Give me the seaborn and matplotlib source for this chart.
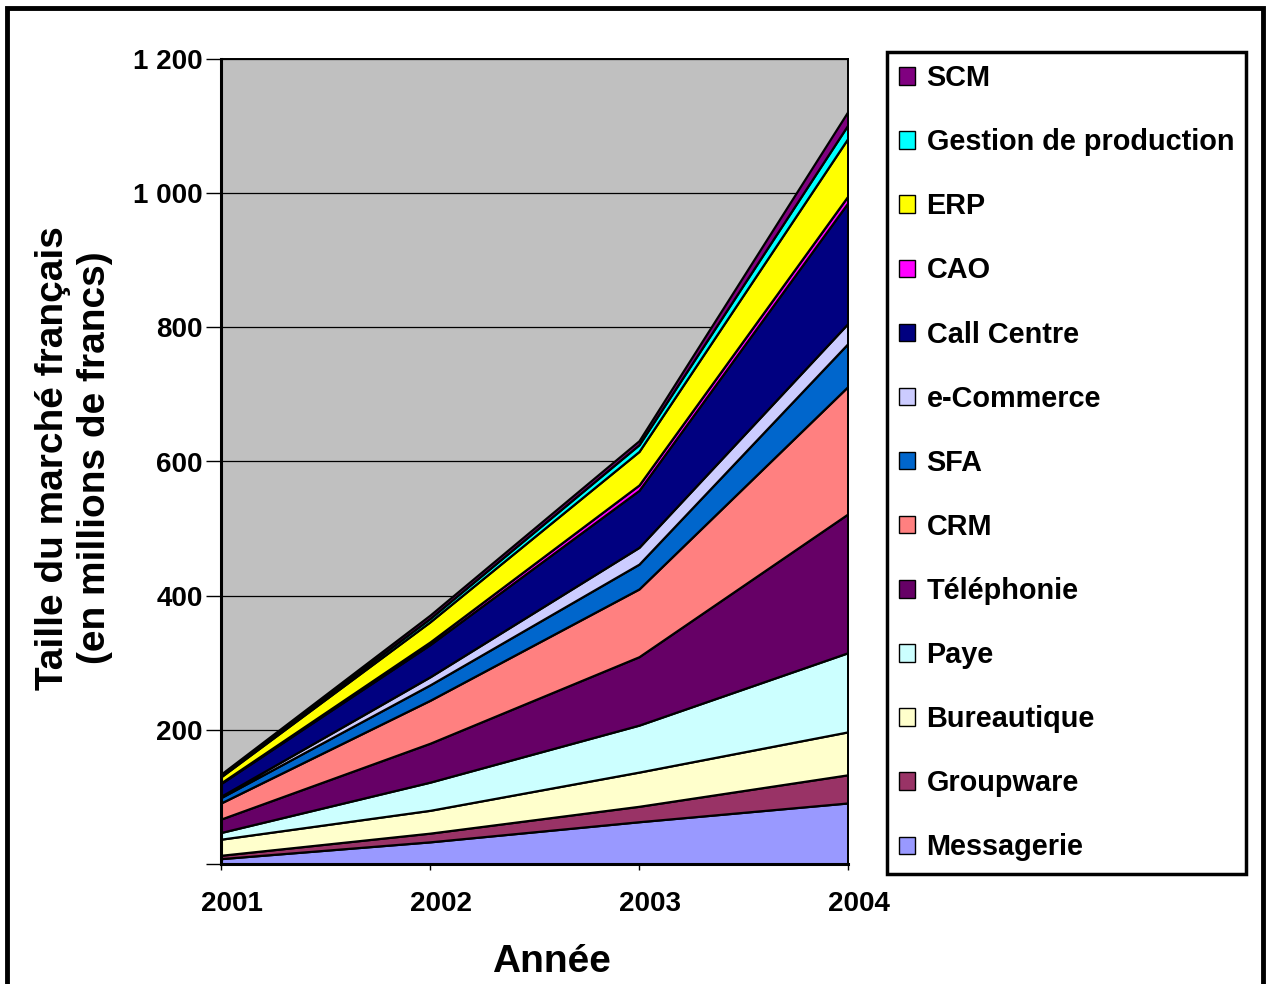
import matplotlib
matplotlib.use("Agg")
import matplotlib.pyplot as plt
import matplotlib.patches as mpatches
import matplotlib.transforms as mtransforms
import seaborn as sns

# Market size by software segment (millions of francs), stacked bottom to top
years = [2001, 2002, 2003, 2004]
segments = ["Messagerie", "Groupware", "Bureautique", "Paye", "Téléphonie", "CRM",
            "SFA", "e-Commerce", "Call Centre", "CAO", "ERP",
            "Gestion de production", "SCM"]
messagerie = [8, 33, 63, 91]
groupware = [5, 13, 23, 42]
bureautique = [24, 34, 51, 64]
paye = [10, 42, 70, 118]
telephonie = [20, 58, 102, 207]
crm = [24, 64, 101, 190]
sfa = [8, 23, 37, 64]
ecommerce = [2, 12, 25, 30]
call_centre = [19, 48, 85, 180]
cao = [1, 4, 8, 10]
erp = [9, 30, 50, 86]
gestion_production = [2, 5, 10, 20]
scm = [2, 5, 6, 20]

y_ticks = [0, 200, 400, 600, 800, 1000, 1200]
y_tick_labels = ["", "200", "400", "600", "800", "1 000", "1 200"]
x_tick_labels = ["2001", "2002", "2003", "2004"]

series = [messagerie, groupware, bureautique, paye, telephonie, crm, sfa,
          ecommerce, call_centre, cao, erp, gestion_production, scm]
colors = ["#9999FF", "#993366", "#FFFFCC", "#CCFFFF", "#660066", "#FF8080",
          "#0066CC", "#CCCCFF", "#000080", "#FF00FF", "#FFFF00", "#00FFFF",
          "#800080"]

sns.set_style("white")
plt.rcParams["font.family"] = ["Liberation Sans", "DejaVu Sans"]
plt.rcParams["font.weight"] = "bold"
for key in ("text.color", "axes.labelcolor", "xtick.color", "ytick.color"):
    plt.rcParams[key] = "black"

W, H = 1268, 984
fig = plt.figure(figsize=(W / 100, H / 100), dpi=100)
ax = fig.add_axes([221 / W, 1 - 864 / H, (848 - 221) / W, (864 - 59) / H])
ax.set_facecolor("#C0C0C0")

ax.yaxis.grid(True, color="black", linewidth=0.9)
ax.xaxis.grid(False)
ax.set_axisbelow(True)

ax.stackplot(years, series, colors=colors, edgecolor="black", linewidth=1.6)

ax.set_xlim(2001, 2004)
ax.set_ylim(0, 1200)
ax.set_xticks(years)
ax.set_xticklabels(x_tick_labels)
ax.set_yticks(y_ticks)
ax.set_yticklabels(y_tick_labels)

for side, lw in (("left", 2.2), ("bottom", 2.2), ("top", 1.4), ("right", 1.4)):
    ax.spines[side].set_visible(True)
    ax.spines[side].set_color("black")
    ax.spines[side].set_linewidth(lw)

ax.tick_params(axis="y", direction="out", length=11, width=1, pad=2,
               labelsize=20, colors="black", left=True)
ax.tick_params(axis="x", direction="out", length=4.5, width=1, pad=15,
               labelsize=20, colors="black", bottom=True)
shift = mtransforms.ScaledTranslation(11 / 100, 0, fig.dpi_scale_trans)
for lbl in ax.get_xticklabels():
    lbl.set_transform(lbl.get_transform() + shift)
for lbl in ax.get_xticklabels() + ax.get_yticklabels():
    lbl.set_fontweight("bold")

fig.text(74 / W, 1 - 458 / H, "Taille du marché français\n(en millions de francs)",
         rotation=90, ha="center", va="center", multialignment="center",
         fontsize=28, fontweight="bold", linespacing=1.2, color="black")
fig.text(551 / W, 1 - 962 / H, "Année", ha="center", va="center",
         fontsize=28, fontweight="bold", color="black")

handles = [mpatches.Patch(facecolor=c, edgecolor="black", linewidth=1)
           for c in colors][::-1]
leg = fig.legend(handles, segments[::-1], loc="upper left",
                 bbox_to_anchor=(887 / W, 1 - 52 / H),
                 bbox_transform=fig.transFigure, frameon=True, fancybox=False,
                 edgecolor="black", prop={"weight": "bold", "size": 20.8},
                 labelspacing=1.25, handlelength=0.55, handleheight=0.55,
                 handletextpad=0.4, borderpad=0.42, borderaxespad=0)
leg.get_frame().set_linewidth(2.5)
leg.get_frame().set_alpha(1)
for t in leg.get_texts():
    t.set_color("black")

fig.add_artist(mpatches.Rectangle((7 / W, -0.05), (1263 - 7) / W, 1.05 - 7.5 / H,
                                  transform=fig.transFigure, fill=False,
                                  linewidth=3.5, edgecolor="black"))

fig.savefig("out.png", dpi=100, facecolor="white")
